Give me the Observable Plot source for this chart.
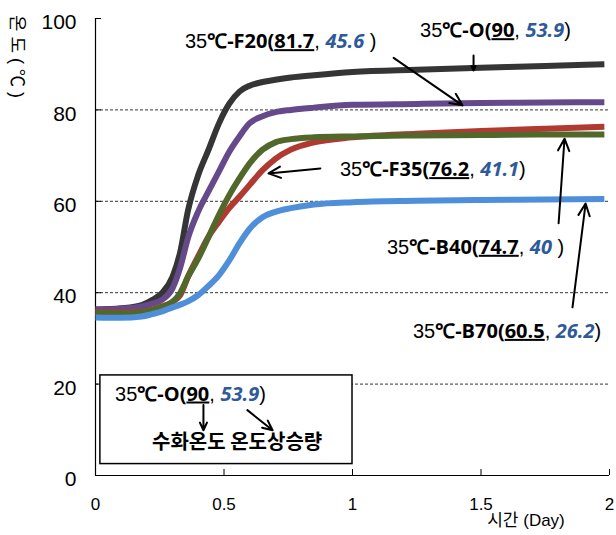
<!DOCTYPE html>
<html><head><meta charset="utf-8">
<script src="https://cdn.jsdelivr.net/npm/d3@7"></script>
<script src="https://cdn.jsdelivr.net/npm/@observablehq/plot@0.6"></script>
<style>body{margin:0;background:#fff}#chart{width:616px;height:535px}</style>
</head><body><div id="chart"></div>
<script>
// ---- data ----
const time = [0, 0.1, 0.18, 0.22, 0.26, 0.3, 0.33, 0.36, 0.4, 0.44, 0.48, 0.52, 0.56, 0.6, 0.65, 0.7, 0.76, 0.85, 1.0, 1.25, 1.5, 1.75, 1.98];
const seriesNames = ["35℃-O", "35℃-F20", "35℃-F35", "35℃-B40", "35℃-B70"];
const valuesO   = [36.3, 36.6, 37.3, 38.4, 40.0, 43.5, 49.0, 58.0, 65.8, 71.3, 77.0, 81.3, 84.0, 85.3, 86.1, 86.6, 87.1, 87.6, 88.3, 88.8, 89.2, 89.6, 90.0];
const valuesF20 = [36.3, 36.5, 37.0, 37.6, 38.5, 41.0, 45.6, 52.0, 57.8, 62.2, 66.5, 70.8, 74.2, 77.1, 78.6, 79.5, 80.0, 80.5, 81.1, 81.3, 81.5, 81.6, 81.7];
const valuesF35 = [35.8, 35.7, 35.9, 36.3, 37.0, 38.0, 39.5, 43.5, 48.0, 52.3, 55.5, 58.5, 61.0, 63.6, 66.8, 69.3, 71.3, 72.9, 74.0, 74.8, 75.4, 75.9, 76.3];
const valuesB40 = [35.6, 35.5, 35.8, 36.2, 36.9, 38.0, 40.0, 43.5, 47.5, 52.2, 57.0, 61.3, 65.0, 68.3, 71.3, 72.9, 73.6, 74.0, 74.2, 74.4, 74.5, 74.6, 74.6];
const valuesB70 = [34.6, 34.5, 34.8, 35.3, 35.9, 36.8, 37.4, 38.1, 39.5, 41.5, 43.8, 47.0, 50.8, 54.0, 56.5, 57.7, 58.5, 59.3, 59.8, 60.1, 60.3, 60.4, 60.5];
const xTicks = [0, 0.5, 1, 1.5, 2];
const yTicks = [0, 20, 40, 60, 80, 100];
const gridValues = [20, 40, 60, 80];
const xLabel = "시간 (Day)";
const yLabel = "온도(℃)";

// annotation texts: [text, kind]  kind: n normal, b bold, u bold-underlined value, i italic rise value
const labelO   = [["35","n"],["℃-O(","b"],["90","u"],[", ","n"],["53.9","i"],[")","n"]];
const labelF20 = [["35","n"],["℃-F20(","b"],["81.7","u"],[", ","n"],["45.6","i"],[" )","n"]];
const labelF35 = [["35","n"],["℃-F35(","b"],["76.2","u"],[", ","n"],["41.1","i"],[")","n"]];
const labelB40 = [["35","n"],["℃-B40(","b"],["74.7","u"],[", ","n"],["40","i"],[" )","n"]];
const labelB70 = [["35","n"],["℃-B70(","b"],["60.5","u"],[", ","n"],["26.2","i"],[")","n"]];
const legendLine1 = [["35","n"],["℃-O(","b"],["90","u"],[", ","n"],["53.9","i"],[")","n"]];
const legendLine2 = "수화온도 온도상승량";

// annotation anchors (data coordinates)
const labelX = [1.265, 0.350, 0.953, 1.136, 1.237];
const labelY = [95.8, 93.4, 65.4, 48.4, 30.0];
const arrowX1 = [1.471, 1.160, 0.875, 1.802, 1.856, 0.420, 0.591];
const arrowY1 = [91.9, 91.4, 67.2, 55.2, 36.8, 15.4, 14.3];
const arrowX2 = [1.471, 1.428, 0.673, 1.825, 1.907, 0.420, 0.689];
const arrowY2 = [88.6, 81.0, 66.1, 73.7, 59.5, 9.9, 9.9];
const legendBox = {x1: 0.019, x2: 1.0, y1: 2.5, y2: 21.9};
const legendTextX = [0.078, 0.222];
const legendTextY = [16.3, 5.6];

// ---- styles ----
const seriesColors = ["#353535", "#65498A", "#B03A32", "#52682A", "#4F8FDA"];
const riseColor = "#2E5A9A";

const allValues = [valuesO, valuesF20, valuesF35, valuesB40, valuesB70];
const rows = seriesNames.flatMap((s, i) => time.map((t, j) => ({series: s, t, v: allValues[i][j]})));
const arrows = arrowX1.map((d, i) => ({x1: d, y1: arrowY1[i], x2: arrowX2[i], y2: arrowY2[i]}));

const W = 616, H = 535, ML = 95, MR = 7, MT = 18, MB = 60;
const plot = Plot.plot({
  width: W, height: H, marginLeft: ML, marginRight: MR, marginTop: MT, marginBottom: MB,
  x: {domain: [0, 2]},
  y: {domain: [0, 100]},
  color: {domain: seriesNames, range: seriesColors},
  style: {fontFamily: "'Liberation Sans', Arial, sans-serif", background: "#fff", color: "#000"},
  marks: [
    Plot.ruleY(gridValues, {stroke: "#000", strokeWidth: 0.8, strokeDasharray: "3,2"}),
    Plot.axisY(yTicks, {tickSize: 0, tickPadding: 19, fontSize: 21, label: null, dy: 4}),
    Plot.axisX(xTicks, {tickSize: 0, tickPadding: 22, fontSize: 17, label: null, tickFormat: d => String(d)}),
    Plot.tickY(yTicks, {y: d => d, insetRight: W - ML - MR - 6, stroke: "#000"}),
    Plot.tickX(xTicks, {x: d => d, insetTop: H - MT - MB - 6, stroke: "#000"}),
    Plot.ruleX([0], {stroke: "#000", strokeWidth: 1.2}),
    Plot.ruleY([0], {stroke: "#000", strokeWidth: 1.2}),
    Plot.line(rows, {x: "t", y: "v", z: "series", stroke: "series", strokeWidth: 6, curve: "monotone-x", strokeLinecap: "butt"}),
    Plot.rect([legendBox], {x1: "x1", x2: "x2", y1: "y1", y2: "y2", fill: "#fff", stroke: "#000", strokeWidth: 1.5}),
    Plot.arrow(arrows, {x1: "x1", y1: "y1", x2: "x2", y2: "y2", stroke: "#000", strokeWidth: 2, headLength: 10, headAngle: 50})
  ]
});
document.getElementById("chart").appendChild(plot);

const sx = plot.scale("x"), sy = plot.scale("y");
const svg = d3.select(plot);
const g = svg.append("g").attr("text-anchor", "start");

function rich(x, y, segs, size) {
  const t = g.append("text").attr("x", x).attr("y", y).attr("text-anchor", "start")
    .attr("font-size", size).attr("font-family", "'Liberation Sans', Arial, 'Noto Sans CJK KR', sans-serif");
  segs.forEach(([s, k]) => {
    const ts = t.append("tspan").text(s).attr("fill", "#000");
    if (k === "b") ts.attr("font-weight", "bold").attr("font-family", "'Open Sans', 'Liberation Sans', sans-serif");
    if (k === "u") ts.attr("font-weight", "bold").attr("text-decoration", "underline").attr("font-family", "'Open Sans', 'Liberation Sans', sans-serif");
    if (k === "i") ts.attr("font-weight", "bold").attr("font-style", "italic").attr("fill", riseColor).attr("font-family", "'Open Sans', 'Liberation Sans', sans-serif");
  });
  return t;
}
[labelO, labelF20, labelF35, labelB40, labelB70].forEach((segs, i) =>
  rich(sx.apply(labelX[i]), sy.apply(labelY[i]), segs, 20));
rich(sx.apply(legendTextX[0]), sy.apply(legendTextY[0]), legendLine1, 20);
g.append("text").attr("x", sx.apply(legendTextX[1])).attr("y", sy.apply(legendTextY[1])).attr("text-anchor", "start")
  .attr("font-size", 20).attr("font-weight", "bold").attr("font-family", "'Noto Sans CJK KR', sans-serif")
  .text(legendLine2);

// axis titles
g.append("text").attr("x", 526).attr("y", 526).attr("text-anchor", "middle")
  .attr("font-size", 17).attr("font-family", "'Liberation Sans', 'Noto Sans CJK KR', sans-serif").text(xLabel);
g.append("text").attr("transform", "translate(11,59) rotate(90)").attr("text-anchor", "middle")
  .attr("font-size", 18).attr("letter-spacing", 5).attr("font-family", "'Liberation Sans', 'Noto Sans CJK KR', sans-serif").text(yLabel);
</script></body></html>
